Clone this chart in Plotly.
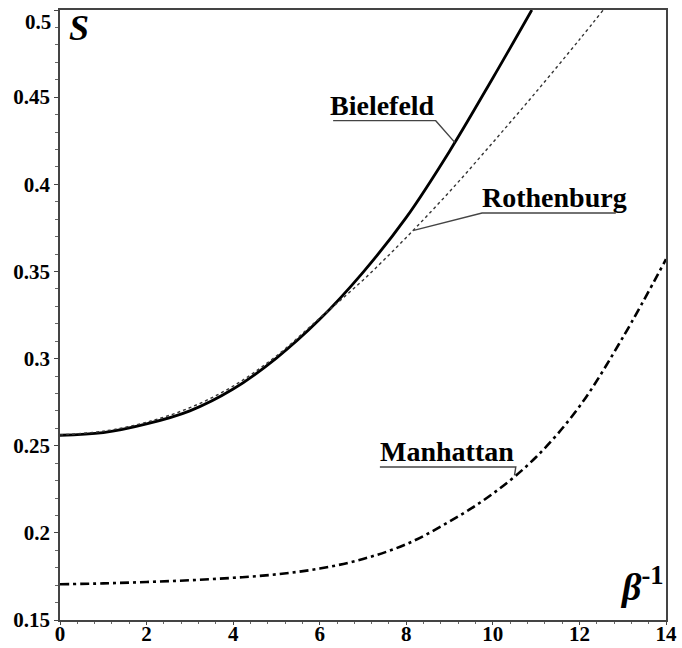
import numpy as np
import plotly.graph_objects as go

# Entropy S versus inverse coupling beta^-1 for three lattice actions
x_biel = [0, 1, 2, 3, 4, 5, 6, 7, 8, 9, 10, 10.9]
s_biel = [0.256, 0.2575, 0.2625, 0.270, 0.2825, 0.3003, 0.3225, 0.3495, 0.381, 0.419, 0.461, 0.5]

x_roth = [0, 1, 2, 3, 4, 5, 6, 7, 8, 9, 10, 11, 12, 12.55]
s_roth = [0.2562, 0.2583, 0.2635, 0.2718, 0.2842, 0.3015, 0.3232, 0.345, 0.3695, 0.3958, 0.424, 0.453, 0.483, 0.5]

x_manh = [0, 1, 2, 3, 4, 5, 6, 7, 8, 9, 10, 11, 12, 13, 14]
s_manh = [0.1705, 0.171, 0.1718, 0.1728, 0.1742, 0.1762, 0.1795, 0.185, 0.1935, 0.2065, 0.2225, 0.2435, 0.2725, 0.312, 0.357]

x_ticks = [0, 2, 4, 6, 8, 10, 12, 14]
y_ticks = [0.15, 0.2, 0.25, 0.3, 0.35, 0.4, 0.45, 0.5]
y_ticktext = ["0.15", "0.2", "0.25", "0.3", "0.35", "0.4", "0.45", "0.5"]

SERIF = "Liberation Serif"

fig = go.Figure()
fig.add_trace(go.Scatter(x=x_biel, y=s_biel, mode="lines", line=dict(color="black", width=2.8, shape="spline"),
                         name="Bielefeld", showlegend=False))
fig.add_trace(go.Scatter(x=x_roth, y=s_roth, mode="lines", line=dict(color="#333333", width=1.4, dash="dot", shape="spline"),
                         name="Rothenburg", showlegend=False))
fig.add_trace(go.Scatter(x=x_manh, y=s_manh, mode="lines",
                         line=dict(color="black", width=2.6, dash="9px,4px,3px,4px", shape="spline"),
                         name="Manhattan", showlegend=False))

# Labels with an underline; the leader leaves from the left or right end of the underline
labels = [
    ("Bielefeld", x_biel, s_biel, 6.31, 8.68, 0.4365, 9.12, "right", -5),
    ("Rothenburg", x_roth, s_roth, 9.75, 12.84, 0.3835, 8.15, "left", -2),
    ("Manhattan", x_manh, s_manh, 7.39, 10.53, 0.2378, 10.5, "right", -2),
]
for text, xs, ys, x0, x1, yu, xt, side, dx in labels:
    yt = float(np.interp(xt, xs, ys))
    if side == "right":
        path = f"M {x0} {yu} L {x1} {yu} L {xt} {yt}"
    else:
        path = f"M {x1} {yu} L {x0} {yu} L {xt} {yt}"
    fig.add_shape(type="path", path=path, line=dict(color="#444444", width=1.4), xref="x", yref="y")
    fig.add_annotation(x=x0, y=yu, xref="x", yref="y", text=f"<b>{text}</b>", showarrow=False,
                       xanchor="left", yanchor="bottom", yshift=-2, xshift=dx,
                       font=dict(family=SERIF, size=28, color="black"))

# Axis symbols
fig.add_annotation(xref="paper", yref="paper", x=0.012, y=1.0, yshift=4, text="<b><i>S</i></b>", showarrow=False,
                   xanchor="left", yanchor="top", font=dict(family=SERIF, size=36, color="black"))
fig.add_annotation(xref="paper", yref="paper", x=1.0, y=0.01, yshift=4,
                   text="<b><i>β</i></b><sup><b>-1</b></sup>", showarrow=False,
                   xanchor="right", yanchor="bottom", font=dict(family=SERIF, size=38, color="black"))

tickfont = dict(family=SERIF, size=21, color="black", weight="bold")

# The top y label sits just below the frame edge so it stays on the page
top_label = y_ticktext[-1]
y_ticktext_axis = y_ticktext[:-1] + [""]
fig.add_annotation(xref="paper", yref="y", x=0, y=y_ticks[-1], xshift=-7, yshift=2, text=f"<b>{top_label}</b>",
                   showarrow=False, xanchor="right", yanchor="top", font=dict(family=SERIF, size=21, color="black"))

fig.update_xaxes(range=[0, 14], tickvals=x_ticks, ticks="outside", ticklen=3, tickwidth=1.2, tickcolor="#444",
                 showline=True, linecolor="#444", linewidth=1.6, mirror=True, showgrid=False, zeroline=False,
                 tickfont=tickfont, automargin=False, ticklabelstandoff=-9, ticklabeloverflow="allow",
                 minor=dict(dtick=0.4, tick0=0, ticks="outside", ticklen=2, tickcolor="#666", showgrid=False))
fig.update_yaxes(range=[0.15, 0.5], tickvals=y_ticks, ticktext=y_ticktext_axis, ticks="outside", ticklen=4, tickwidth=1.2,
                 tickcolor="#444", showline=True, linecolor="#444", linewidth=1.6, mirror=True, showgrid=False,
                 zeroline=False, tickfont=tickfont, automargin=False, ticklabeloverflow="allow",
                 minor=dict(dtick=0.01, tick0=0.15, ticks="outside", ticklen=3, tickcolor="#666", showgrid=False))

fig.update_layout(width=682, height=648, margin=dict(l=60, r=16, t=10, b=28, autoexpand=False),
                  font=dict(family=SERIF, color="black"),
                  plot_bgcolor="white", paper_bgcolor="white", showlegend=False)

fig.write_html("out.html")
